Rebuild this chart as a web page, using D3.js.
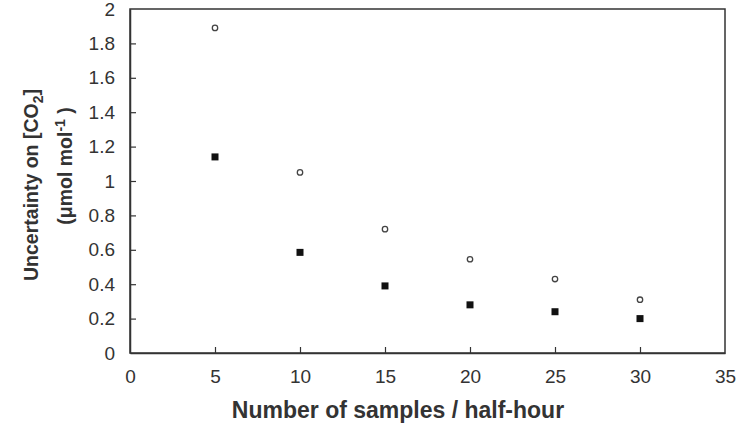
<!DOCTYPE html>
<html>
<head>
<meta charset="utf-8">
<script src="https://cdn.jsdelivr.net/npm/d3@7"></script>
<style>
  body { margin: 0; background: #fff; }
  text { font-family: "Liberation Sans", Arial, sans-serif; fill: #333; }
</style>
</head>
<body>
<svg id="chart" width="740" height="430"></svg>
<script>
// samples per half-hour
const samples = [5, 10, 15, 20, 25, 30];
// open circles
const seriesOpen = [1.89, 1.05, 0.72, 0.545, 0.43, 0.31];
// filled squares
const seriesFilled = [1.14, 0.585, 0.39, 0.28, 0.24, 0.2];
const xTicks = [0, 5, 10, 15, 20, 25, 30, 35];
const yTicks = [0, 0.2, 0.4, 0.6, 0.8, 1, 1.2, 1.4, 1.6, 1.8, 2];

const svg = d3.select("#chart");
const margin = { left: 130, right: 15, top: 9, bottom: 77 };
const width = 740, height = 430;

const x = d3.scaleLinear().domain([0, 35]).range([margin.left, width - margin.right]);
const y = d3.scaleLinear().domain([0, 2]).range([height - margin.bottom, margin.top]);

// frame
svg.append("rect")
  .attr("x", x(0)).attr("y", y(2))
  .attr("width", x(35) - x(0)).attr("height", y(0) - y(2))
  .attr("fill", "none").attr("stroke", "#333").attr("stroke-width", 1.5);

// x axis, ticks pointing inward
const xAxis = svg.append("g")
  .attr("transform", `translate(0,${y(0)})`)
  .call(d3.axisBottom(x).tickValues(xTicks).tickSizeInner(-6).tickSizeOuter(0).tickPadding(17).tickFormat(d3.format("d")));
xAxis.select(".domain").attr("stroke", "#333").attr("stroke-width", 1.5);
xAxis.selectAll(".tick line").attr("stroke", "#333").attr("stroke-width", 1.2);
xAxis.selectAll(".tick text").style("font-size", "19px").style("fill", "#333")
  .attr("font-family", null);

// y axis
const yAxis = svg.append("g")
  .attr("transform", `translate(${x(0)},0)`)
  .call(d3.axisLeft(y).tickValues(yTicks).tickSizeInner(-6).tickSizeOuter(0).tickPadding(15).tickFormat(d => String(+d.toFixed(1))));
yAxis.select(".domain").attr("stroke", "#333").attr("stroke-width", 1.5);
yAxis.selectAll(".tick line").attr("stroke", "#333").attr("stroke-width", 1.2);
yAxis.selectAll(".tick text").style("font-size", "19px").style("fill", "#333")
  .attr("font-family", null);

// no tick marks at the corners
xAxis.selectAll(".tick").filter(d => d === 0 || d === 35).select("line").remove();
yAxis.selectAll(".tick").filter(d => d === 0 || d === 2).select("line").remove();

// squares
const sq = 7;
svg.append("g").selectAll("rect")
  .data(samples.map((s, i) => [s, seriesFilled[i]]))
  .join("rect")
  .attr("x", d => x(d[0]) - sq / 2)
  .attr("y", d => y(d[1]) - sq / 2)
  .attr("width", sq).attr("height", sq)
  .attr("fill", "#111");

// circles
svg.append("g").selectAll("circle")
  .data(samples.map((s, i) => [s, seriesOpen[i]]))
  .join("circle")
  .attr("cx", d => x(d[0]))
  .attr("cy", d => y(d[1]))
  .attr("r", 2.7)
  .attr("fill", "#fff")
  .attr("stroke", "#444")
  .attr("stroke-width", 1.3);

// x title
svg.append("text")
  .attr("x", 398).attr("y", 418)
  .attr("text-anchor", "middle")
  .style("font-size", "23px").style("font-weight", "bold")
  .text("Number of samples / half-hour");

// y title, two lines
const yt = svg.append("g").attr("transform", "translate(38,185) rotate(-90)");
const l1 = yt.append("text").attr("text-anchor", "middle")
  .style("font-size", "19.5px").style("font-weight", "bold");
l1.append("tspan").text("Uncertainty on [CO");
l1.append("tspan").attr("dy", 5).style("font-size", "14px").text("2");
l1.append("tspan").attr("dy", -5).text("]");

const l2 = yt.append("text").attr("text-anchor", "middle").attr("x", 19).attr("y", 34)
  .style("font-size", "19.5px").style("font-weight", "bold");
l2.append("tspan").text("(\u03bcmol mol");
l2.append("tspan").attr("dy", -7).style("font-size", "14px").text("-1");
l2.append("tspan").attr("dy", 7).text(" )");
</script>
</body>
</html>
